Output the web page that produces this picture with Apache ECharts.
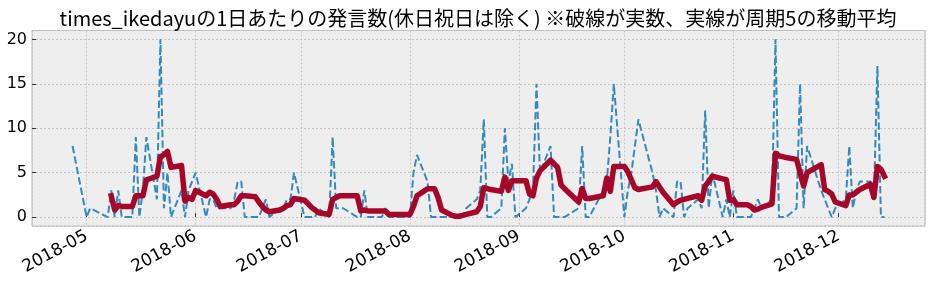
<!DOCTYPE html>
<html><head><meta charset="utf-8">
<script src="https://cdn.jsdelivr.net/npm/echarts@6/dist/echarts.min.js"></script>
<style>html,body{margin:0;padding:0;background:#fff}#c{width:932px;height:286px}</style>
</head><body><div id="c"></div>
<script>
const titleText = 'times_ikedayuの1日あたりの発言数(休日祝日は除く) ※破線が実数、実線が周期5の移動平均';

const dates = [
'2018-04-27','2018-05-01','2018-05-02','2018-05-07','2018-05-08','2018-05-09','2018-05-10','2018-05-11',
'2018-05-14','2018-05-15','2018-05-16','2018-05-17','2018-05-18','2018-05-21','2018-05-22','2018-05-23',
'2018-05-24','2018-05-25','2018-05-28','2018-05-29','2018-05-30','2018-05-31','2018-06-01','2018-06-04',
'2018-06-05','2018-06-06','2018-06-07','2018-06-08','2018-06-11','2018-06-12','2018-06-13','2018-06-14',
'2018-06-15','2018-06-18','2018-06-19','2018-06-20','2018-06-21','2018-06-22','2018-06-25','2018-06-26',
'2018-06-27','2018-06-28','2018-06-29','2018-07-02','2018-07-03','2018-07-04','2018-07-05','2018-07-06',
'2018-07-09','2018-07-10','2018-07-11','2018-07-12','2018-07-13','2018-07-17','2018-07-18','2018-07-19',
'2018-07-20','2018-07-23','2018-07-24','2018-07-25','2018-07-26','2018-07-27','2018-07-30','2018-07-31',
'2018-08-01','2018-08-02','2018-08-03','2018-08-06','2018-08-07','2018-08-08','2018-08-09','2018-08-10',
'2018-08-13','2018-08-14','2018-08-15','2018-08-16','2018-08-17','2018-08-20','2018-08-21','2018-08-22',
'2018-08-23','2018-08-24','2018-08-27','2018-08-28','2018-08-29','2018-08-30','2018-08-31','2018-09-03',
'2018-09-04','2018-09-05','2018-09-06','2018-09-07','2018-09-10','2018-09-11','2018-09-12','2018-09-13',
'2018-09-14','2018-09-18','2018-09-19','2018-09-20','2018-09-21','2018-09-25','2018-09-26','2018-09-27',
'2018-09-28','2018-10-01','2018-10-02','2018-10-03','2018-10-04','2018-10-05','2018-10-09','2018-10-10',
'2018-10-11','2018-10-12','2018-10-15','2018-10-16','2018-10-17','2018-10-18','2018-10-19','2018-10-22',
'2018-10-23','2018-10-24','2018-10-25','2018-10-26','2018-10-29','2018-10-30','2018-10-31','2018-11-01',
'2018-11-02','2018-11-05','2018-11-06','2018-11-07','2018-11-08','2018-11-09','2018-11-12','2018-11-13',
'2018-11-14','2018-11-15','2018-11-16','2018-11-19','2018-11-20','2018-11-21','2018-11-22','2018-11-26',
'2018-11-27','2018-11-28','2018-11-29','2018-11-30','2018-12-03','2018-12-04','2018-12-05','2018-12-06',
'2018-12-07','2018-12-10','2018-12-11','2018-12-12','2018-12-13','2018-12-14'
];

// 実数 (dashed)
const dailyCounts = [
8,0,1,0,3,0,3,0,
0,9,0,3,9,2,20,1,
5,0,3,0,3,4,5,0,
2,2,1,1,1,2,4,4,
0,0,0,1,2,0,1,1,
2,2,5,0,0,0,0,1,
0,9,1,1,1,0,0,3,
0,0,0,1,0,0,0,0,
0,5,7,4,0,0,0,0,
0,0,0,0,1,2,3,11,
0,0,1,10,4,6,0,1,
2,3,15,5,8,0,0,0,
0,1,8,0,0,3,4,9,
15,0,3,5,8,11,5,3,
0,1,0,4,4,0,1,2,
1,12,1,5,0,2,0,3,
0,0,0,1,2,1,2,20,
0,0,0,1,15,1,8,3,
2,1,0,1,2,8,1,3,
4,4,2,17,0,0
];

// 周期5の移動平均 (solid)
const movingAvg5 = [
null,null,null,null,2.4,0.8,1.3,1.2,
1.2,2.4,2.4,2.4,4.2,4.6,6.8,7.0,
7.4,5.6,5.8,1.8,2.2,2.0,3.0,2.4,
2.8,2.6,2.0,1.2,1.4,1.4,1.8,2.4,
2.4,2.3,1.7,1.2,0.8,0.6,0.8,1.0,
1.3,1.4,2.1,1.9,1.5,1.1,0.8,0.5,
0.3,2.0,2.2,2.4,2.4,2.4,0.7,0.8,
0.7,0.7,0.7,0.7,0.3,0.3,0.3,0.3,
0.3,1.2,2.4,3.2,3.2,3.2,2.2,0.8,
0.2,0.1,0.1,0.2,0.3,0.6,1.2,3.3,
3.2,3.1,2.9,4.5,3.0,4.1,4.1,4.1,
2.6,2.4,4.4,5.2,6.4,6.0,5.6,3.6,
3.2,1.7,3.2,2.1,2.1,2.4,4.4,2.9,
5.7,5.7,5.1,4.2,3.3,3.1,3.4,4.0,
3.4,2.8,1.4,1.7,1.9,2.0,2.1,2.4,
1.9,3.5,4.0,4.6,4.3,4.2,1.9,2.0,
1.4,1.4,1.2,0.8,0.9,1.1,1.5,7.2,
6.9,6.8,6.7,6.5,5.0,3.5,5.0,5.9,
3.1,2.9,2.6,1.7,1.3,2.5,2.5,2.8,
3.1,3.7,2.2,5.7,5.4,4.6
];

const xRange = ['2018-04-15 11:00', '2018-12-25 13:00'];
const yRange = [-1, 21];

const TITLE_FONT = '"Noto Sans CJK JP", "Noto Sans", sans-serif';
const TICK_FONT = '"DejaVu Sans", sans-serif';
const chart = echarts.init(document.getElementById('c'), null, {renderer: 'canvas'});
const pad2 = n => (n < 10 ? '0' : '') + n;

chart.setOption({
  animation: false,
  backgroundColor: '#ffffff',
  title: {
    text: titleText,
    left: 473, textAlign: 'center', top: 3,
    textStyle: {fontFamily: TITLE_FONT, fontSize: 20, fontWeight: 'normal', color: '#000'}
  },
  grid: {
    left: 32, right: 7, top: 30.5, bottom: 60,
    show: true, backgroundColor: '#eeeeee', borderColor: '#bcbcbc', borderWidth: 1,
    containLabel: false, outerBoundsMode: 'none'
  },
  xAxis: {
    type: 'time',
    min: xRange[0], max: xRange[1],
    minInterval: 28 * 86400000, maxInterval: 31 * 86400000,
    axisLine: {show: false},
    axisTick: {show: true, inside: true, length: 4, lineStyle: {color: '#333', width: 1}},
    splitLine: {show: true, lineStyle: {color: '#c4c4c4', width: 1, type: [2, 2]}},
    axisLabel: {
      show: true, rotate: 28, margin: 9,
      fontFamily: TICK_FONT, fontSize: 17, color: '#000',
      showMinLabel: false, showMaxLabel: false,
      formatter: v => { const d = new Date(v); return d.getFullYear() + '-' + pad2(d.getMonth() + 1); }
    }
  },
  yAxis: {
    type: 'value', min: yRange[0], max: yRange[1], splitNumber: 5,
    axisLine: {show: false},
    axisTick: {show: true, inside: true, length: 4, lineStyle: {color: '#333', width: 1}},
    splitLine: {show: true, lineStyle: {color: '#c4c4c4', width: 1, type: [2, 2]}},
    axisLabel: {
      show: true, margin: 5, fontFamily: TICK_FONT, fontSize: 16, color: '#000',
      showMinLabel: false, showMaxLabel: false
    }
  },
  series: [
    {
      name: '実数', type: 'line', showSymbol: false, symbol: 'none', z: 2,
      data: dates.map((d, i) => [d, dailyCounts[i]]),
      lineStyle: {color: '#348ABD', width: 2, type: [7.4, 3.2]}
    },
    {
      name: '移動平均', type: 'line', showSymbol: false, symbol: 'none', z: 3,
      data: dates.map((d, i) => [d, movingAvg5[i]]),
      lineStyle: {color: '#A60628', width: 5.5, cap: 'square', join: 'round'}
    }
  ]
});
</script>
</body></html>
